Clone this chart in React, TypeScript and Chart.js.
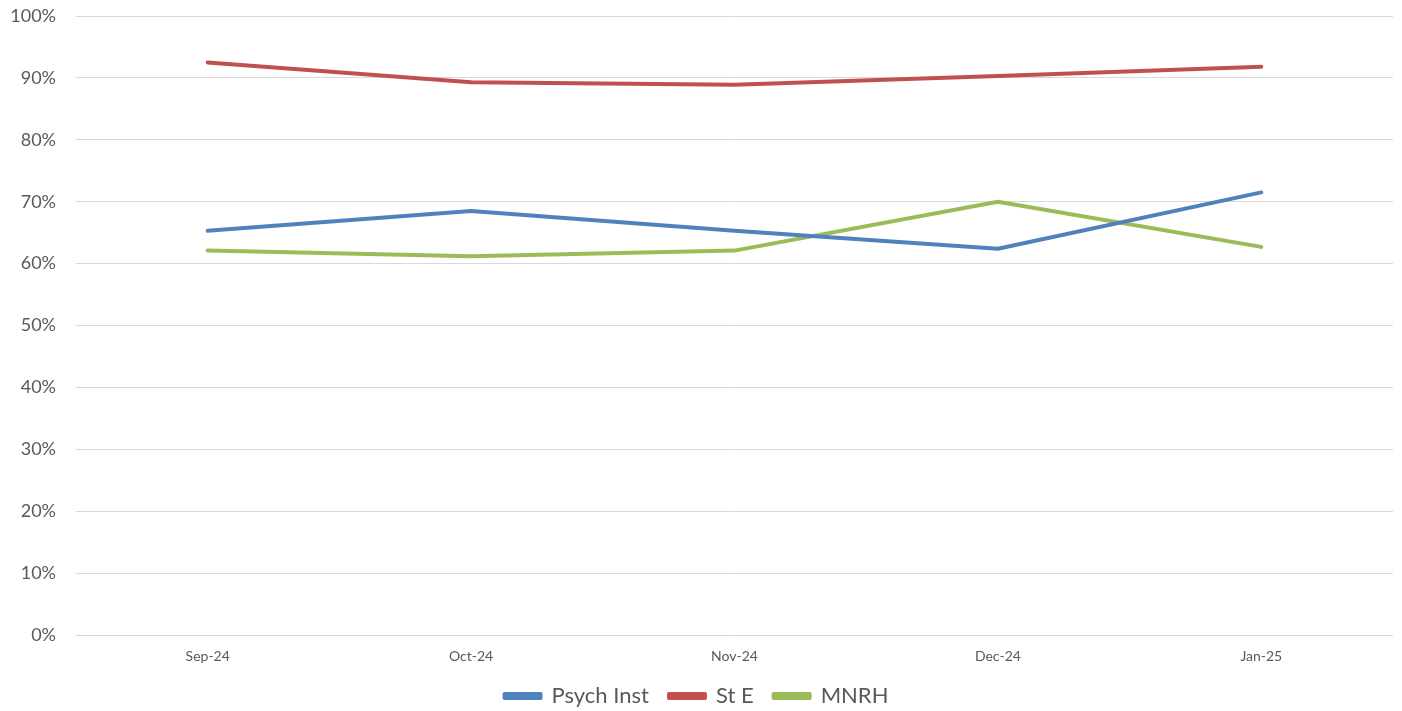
import React, { useEffect, useRef } from "react";
import { Chart, registerables } from "chart.js";

Chart.register(...registerables);

const categories = ["Sep-24", "Oct-24", "Nov-24", "Dec-24", "Jan-25"];
const psychInst = [0.653, 0.685, 0.653, 0.624, 0.715];
const stE = [0.925, 0.893, 0.889, 0.903, 0.918];
const mnrh = [0.621, 0.612, 0.621, 0.700, 0.627];
const seriesNames = ["Psych Inst", "St E", "MNRH"];
const seriesColors = ["#4f81bd", "#c0504d", "#9bbb59"];

const FONT = "Lato, 'Open Sans', sans-serif";
const TEXT = "#595959";

export default function App() {
  const ref = useRef<HTMLCanvasElement | null>(null);

  useEffect(() => {
    if (!ref.current) return;
    const values = [psychInst, stE, mnrh];
    const chart = new Chart(ref.current, {
      type: "line",
      data: {
        labels: categories,
        datasets: values.map((v, i) => ({
          label: seriesNames[i],
          data: v,
          borderColor: seriesColors[i],
          backgroundColor: seriesColors[i],
          borderWidth: 4,
          borderCapStyle: "round" as const,
          borderJoinStyle: "round" as const,
          pointRadius: 0,
          pointHoverRadius: 0,
          tension: 0,
          fill: false,
        })),
      },
      options: {
        animation: false,
        responsive: false,
        maintainAspectRatio: false,
        layout: { padding: { top: 16, right: 9, left: 0, bottom: -6 } },
        plugins: {
          tooltip: { enabled: false },
          legend: {
            position: "bottom",
            labels: {
              boxWidth: 36,
              boxHeight: 4,
              padding: 20,
              color: TEXT,
              font: { family: FONT, size: 22 },
            },
          },
        },
        scales: {
          x: {
            offset: true,
            grid: { display: false, drawTicks: false },
            border: { display: false },
            ticks: {
              padding: 13,
              color: TEXT,
              font: { family: FONT, size: 14 },
              maxRotation: 0,
            },
            afterFit: (s: any) => {
              s.height = 30;
            },
          },
          y: {
            min: 0,
            max: 1,
            grid: { color: "#d9d9d9", lineWidth: 1, drawTicks: false },
            border: { display: false },
            ticks: {
              stepSize: 0.1,
              padding: 20,
              color: TEXT,
              font: { family: FONT, size: 18 },
              callback: (v: any) => Math.round(Number(v) * 100) + "%",
            },
            afterFit: (s: any) => {
              s.width = 76;
              s.paddingTop = 11;
              s.paddingBottom = 11;
            },
          },
        },
      },
    });
    return () => chart.destroy();
  }, []);

  return (
    <div style={{ position: "fixed", left: 0, top: 0, width: 1402, height: 711, background: "#fff" }}>
      <canvas ref={ref} width={1402} height={711} style={{ width: 1402, height: 711, display: "block" }} />
    </div>
  );
}
